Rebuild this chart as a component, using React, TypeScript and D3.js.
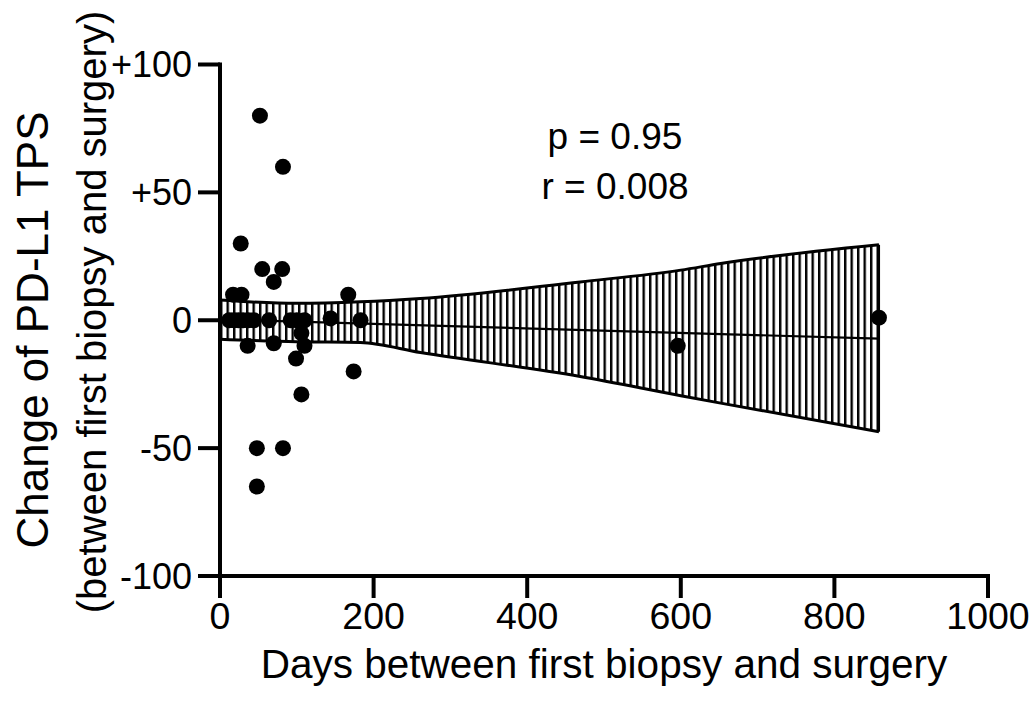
import React from 'react';
import * as d3 from 'd3';

// scatter points: days between biopsy and surgery, change of TPS
const DAYS = [52, 82, 27, 55, 81, 70, 17, 28, 167,
  12, 18, 24, 30, 37, 44, 64, 92, 100, 110, 144, 183,
  106, 36, 70, 110, 99, 174, 106, 48, 82, 48, 596, 858];
const CHANGE = [80, 60, 30, 20, 20, 15, 10, 10, 10,
  0, 0, 0, 0, 0, 0, 0, 0, 0, 0, 0.7, 0,
  -5, -10, -9, -10, -15, -20, -29, -50, -50, -65, -10, 1];

// regression line and its confidence band
const FIT_DAYS = [0, 858];
const FIT_VALUES = [0.3, -7.2];
const BAND_DAYS = [0, 100, 183, 261, 469, 600, 652, 858];
const BAND_UPPER = [7.9, 6.6, 7.2, 8.5, 15.0, 19.6, 22.2, 29.5];
const BAND_LOWER = [-7.4, -8.4, -8.7, -12.6, -22.0, -29.5, -32.4, -43.6];

const X_TICKS = [0, 200, 400, 600, 800, 1000];
const Y_TICKS = [-100, -50, 0, 50, 100];
const Y_LABELS = ['-100', '-50', '0', '+50', '+100'];

const STATS = ['p = 0.95', 'r = 0.008'];

const W = 1035;
const H = 713;
const FONT = '"Liberation Sans", Arial, Helvetica, sans-serif';

export default function App() {
  const x = d3.scaleLinear().domain([0, 1000]).range([220, 988]);
  const y = d3.scaleLinear().domain([-100, 100]).range([576, 64.5]);

  const axisW = 4;
  const tickLen = 22;
  const x0 = x(0);
  const yBase = y(-100);

  const band = BAND_DAYS.map((d, i) => ({ d, hi: BAND_UPPER[i], lo: BAND_LOWER[i] }));
  const area = d3.area<any>()
    .x(p => x(p.d))
    .y0(p => y(p.lo))
    .y1(p => y(p.hi))
    .curve(d3.curveMonotoneX);
  const upper = d3.line<any>().x(p => x(p.d)).y(p => y(p.hi)).curve(d3.curveMonotoneX);
  const lower = d3.line<any>().x(p => x(p.d)).y(p => y(p.lo)).curve(d3.curveMonotoneX);
  const last = band[band.length - 1];

  return (
    <svg width={W} height={H} style={{ position: 'absolute', left: 0, top: 0, background: '#fff' }}>
      <defs>
        <pattern id="hatch" patternUnits="userSpaceOnUse" width={6.5} height={10} x={x0}>
          <line x1={1.2} y1={0} x2={1.2} y2={10} stroke="#000" strokeWidth={2.4} />
        </pattern>
      </defs>

      {/* confidence band */}
      <path d={area(band) || ''} fill="url(#hatch)" />
      <path d={upper(band) || ''} fill="none" stroke="#000" strokeWidth={3} />
      <path d={lower(band) || ''} fill="none" stroke="#000" strokeWidth={3} />
      <line x1={x(last.d)} x2={x(last.d)} y1={y(last.hi)} y2={y(last.lo)} stroke="#000" strokeWidth={2.2} />
      <line x1={x(FIT_DAYS[0])} x2={x(FIT_DAYS[1])} y1={y(FIT_VALUES[0])} y2={y(FIT_VALUES[1])}
        stroke="#000" strokeWidth={2.2} />

      {/* points */}
      {DAYS.map((d, i) => (
        <circle key={i} cx={x(d)} cy={y(CHANGE[i])} r={8} fill="#000" />
      ))}

      {/* axes */}
      <g stroke="#000" strokeWidth={axisW}>
        <line x1={x0} x2={x0} y1={y(100) - axisW / 2} y2={yBase + tickLen} />
        <line x1={x0 - tickLen} x2={x(1000) + axisW / 2} y1={yBase} y2={yBase} />
        {Y_TICKS.map(t => (
          <line key={t} x1={x0 - tickLen} x2={x0} y1={y(t)} y2={y(t)} />
        ))}
        {X_TICKS.map(t => (
          <line key={t} x1={x(t)} x2={x(t)} y1={yBase} y2={yBase + tickLen} />
        ))}
      </g>

      <g fontFamily={FONT} fill="#000">
        {Y_TICKS.map((t, i) => (
          <text key={t} x={x0 - tickLen - 6} y={y(t)} dy="0.36em" textAnchor="end" fontSize={36}>
            {Y_LABELS[i]}
          </text>
        ))}
        {X_TICKS.map(t => (
          <text key={t} x={x(t)} y={629} textAnchor="middle" fontSize={37.5}>{t}</text>
        ))}
        <text x={(x(0) + x(1000)) / 2} y={678} textAnchor="middle" fontSize={40.5}>
          Days between first biopsy and surgery
        </text>
        <text transform={`translate(48,330) rotate(-90)`} textAnchor="middle" fontSize={44}>
          Change of PD-L1 TPS
        </text>
        <text transform={`translate(106,312) rotate(-90)`} textAnchor="middle" fontSize={40}>
          (between first biopsy and surgery)
        </text>
        {STATS.map((s, i) => (
          <text key={s} x={615} y={149 + i * 50} textAnchor="middle" fontSize={37}>{s}</text>
        ))}
      </g>
    </svg>
  );
}
